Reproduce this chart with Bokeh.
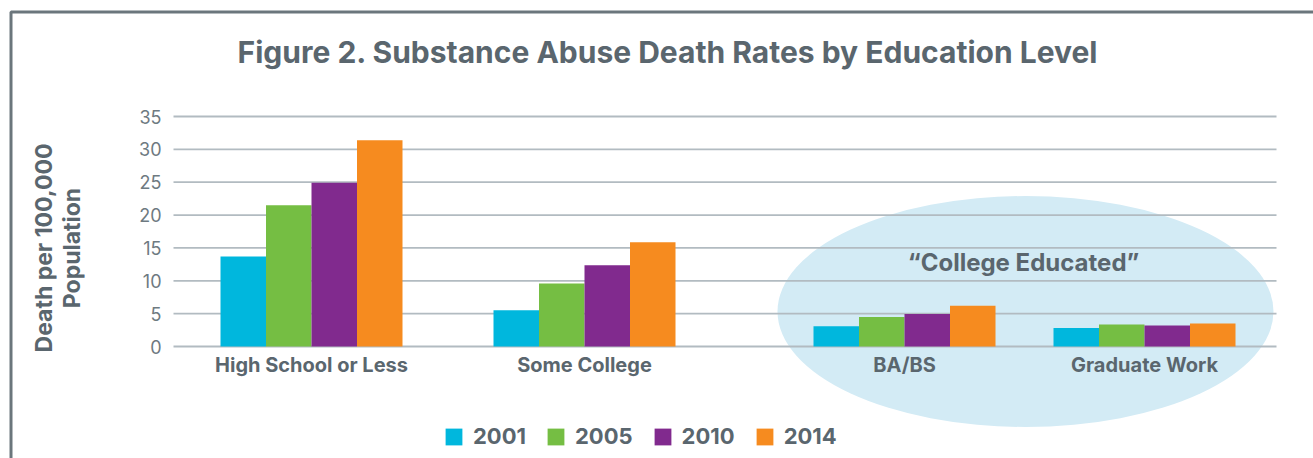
from bokeh.plotting import figure
from bokeh.models import Range1d, LinearAxis, FixedTicker, Label, Legend, LegendItem
from bokeh.embed import file_html
from bokeh.resources import INLINE

# ---------------- data ----------------
categories = ["High School or Less", "Some College", "BA/BS", "Graduate Work"]
years = ["2001", "2005", "2010", "2014"]
rates_2001 = [13.7, 5.5, 3.1, 2.8]
rates_2005 = [21.5, 9.6, 4.5, 3.35]
rates_2010 = [24.9, 12.35, 4.95, 3.2]
rates_2014 = [31.4, 15.85, 6.2, 3.5]
y_ticks = [0, 5, 10, 15, 20, 25, 30, 35]
title_text = "Figure 2. Substance Abuse Death Rates by Education Level"
y_label = "Death per 100,000\nPopulation"
callout_text = "\u201cCollege Educated\u201d"

# ---------------- layout ----------------
W, H = 1313, 458
Y0_PIX, Y35_PIX = 346, 116
K = (Y0_PIX - Y35_PIX) / 35.0          # pixels per unit
Y_TOP = 35 + Y35_PIX / K
Y_BOT = -(H - Y0_PIX) / K


def ypx(pix):
    return Y_TOP - pix / K


group_centers = [311, 584, 904, 1144]
bar_w = 45.5
offsets = [-1.5, -0.5, 0.5, 1.5]
colors = ["#00b7dd", "#75be43", "#812a8e", "#f68b1f"]
series = [rates_2001, rates_2005, rates_2010, rates_2014]
text_dark = "#5a666e"
text_light = "#6e7a81"
FONT = "Inter"

p = figure(width=W, height=H, x_range=Range1d(0, W), y_range=Range1d(Y_BOT, Y_TOP),
           x_axis_type=None, y_axis_type=None, toolbar_location=None,
           output_backend="svg", min_border=0, title=None,
           outline_line_color=None, background_fill_color="white",
           border_fill_color="white")

# highlight ellipse
p.ellipse(x=1025, y=(Y0_PIX - 311) / K, width=496, height=231 / K,
          fill_color="#d3ebf5", line_color=None)

# gridlines
p.segment(x0=[173] * len(y_ticks), x1=[1276] * len(y_ticks), y0=y_ticks, y1=y_ticks,
          line_color="#b2bbc1", line_width=1.8)

# bars
renderers = []
for yr, vals, off, col in zip(years, series, offsets, colors):
    xs = [c + off * bar_w for c in group_centers]
    r = p.vbar(x=xs, top=vals, bottom=0, width=bar_w, fill_color=col, line_color=None)
    renderers.append(r)

# y axis
yaxis = LinearAxis(fixed_location=173, ticker=FixedTicker(ticks=y_ticks), bounds=(-5, 35),
                   axis_line_color=None, major_tick_line_color=None, minor_tick_line_color=None,
                   major_tick_in=0, major_tick_out=0, major_label_standoff=12,
                   major_label_text_font=FONT, major_label_text_font_size="18px",
                   major_label_text_color=text_light,
                   axis_label=y_label, axis_label_text_font=FONT,
                   axis_label_text_font_size="23px", axis_label_text_font_style="bold",
                   axis_label_text_color=text_dark, axis_label_standoff=50,
                   axis_label_text_line_height=1.0)
p.add_layout(yaxis, "left")

# x axis
xaxis = LinearAxis(fixed_location=0, ticker=FixedTicker(ticks=group_centers),
                   major_label_overrides={c: n for c, n in zip(group_centers, categories)},
                   axis_line_color=None, major_tick_line_color=None, minor_tick_line_color=None,
                   major_tick_in=0, major_tick_out=0, major_label_standoff=6,
                   major_label_text_font=FONT, major_label_text_font_size="20px",
                   major_label_text_font_style="bold", major_label_text_color=text_dark)
p.add_layout(xaxis, "below")

# legend
legend = Legend(items=[LegendItem(label=y, renderers=[r]) for y, r in zip(years, renderers)],
                orientation="horizontal", location=(443, 9),
                glyph_width=21, glyph_height=21, label_standoff=9, spacing=19,
                padding=0, margin=0, border_line_color=None, background_fill_alpha=0,
                label_text_font=FONT, label_text_font_size="22px",
                label_text_font_style="bold", label_text_color=text_dark, label_height=26)
p.add_layout(legend)

# title & callout
p.add_layout(Label(x=667.5, y=ypx(51.5), text=title_text, text_align="center",
                   text_baseline="alphabetic", text_font=FONT, text_font_size="30px",
                   text_font_style="bold", text_color=text_dark))
p.add_layout(Label(x=1023, y=ypx(262), text=callout_text, text_align="center",
                   text_baseline="alphabetic", text_font=FONT, text_font_size="24px",
                   text_font_style="bold", text_color=text_dark))

# frame border (top and left)
p.line(x=[10.5, 10.5, W + 50], y=[ypx(H + 50), ypx(11.5), ypx(11.5)],
       line_color="#6b767c", line_width=3)

open("out.html", "w").write(file_html(p, INLINE))
